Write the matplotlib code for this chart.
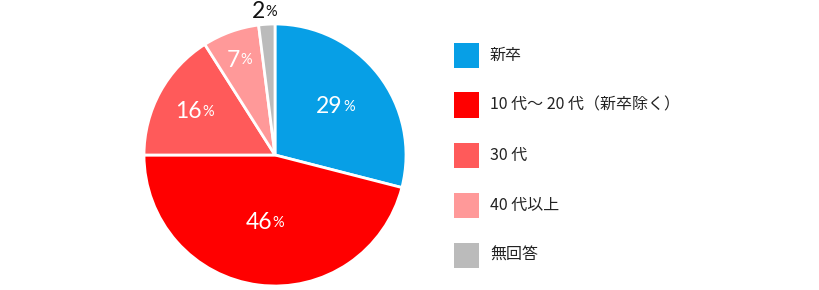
import matplotlib
matplotlib.use("Agg")
import matplotlib.pyplot as plt
import numpy as np
from matplotlib.patches import Rectangle

plt.rcParams['font.family'] = ['Noto Sans CJK JP', 'DejaVu Sans']

categories = ["新卒", "10 代～ 20 代（新卒除く）", "30 代", "40 代以上", "無回答"]
values = [29, 46, 16, 7, 2]
colors = ["#079fe6", "#ff0000", "#ff5a5a", "#ff9999", "#bbbbbb"]
label_r = [0.60, 0.52, 0.69, 0.77, 1.10]
label_colors = ["white", "white", "white", "white", "#111111"]

W, H = 820, 290
fig = plt.figure(figsize=(W / 100, H / 100), dpi=100)
cx, cy, r = 275, 155, 131
ax = fig.add_axes([(cx - r) / W, (H - cy - r) / H, 2 * r / W, 2 * r / H])
wedges, _ = ax.pie(values, colors=colors, startangle=90, counterclock=False,
                   radius=1.0, wedgeprops=dict(edgecolor="white", linewidth=2))
ax.set_xlim(-1, 1)
ax.set_ylim(-1, 1)
ax.set_aspect('auto')
ax.axis('off')

for w, v, lr, lc in zip(wedges, values, label_r, label_colors):
    ang = np.deg2rad((w.theta1 + w.theta2) / 2)
    x, y = lr * np.cos(ang), lr * np.sin(ang)
    t = ax.text(x - 0.06, y, str(v), fontsize=16.5, color=lc, ha='center', va='center',
                family='Lato', clip_on=False)
    ax.annotate('%', xy=(1, 0.15), xycoords=t, xytext=(0.5, 0), textcoords='offset points',
                fontsize=10.5, color=lc, ha='left', va='bottom', family='Lato',
                annotation_clip=False)

# legend
for i, (c, lab) in enumerate(zip(colors, categories)):
    yc = 55 + 50 * i
    fig.patches.append(Rectangle((454 / W, (H - yc - 12.5) / H), 25 / W, 25 / H,
                                 transform=fig.transFigure, facecolor=c, edgecolor='none'))
    fig.text(490 / W, (H - yc) / H, lab, fontsize=11.5, color='#222222',
             ha='left', va='center')

fig.savefig("out.png", dpi=100)
